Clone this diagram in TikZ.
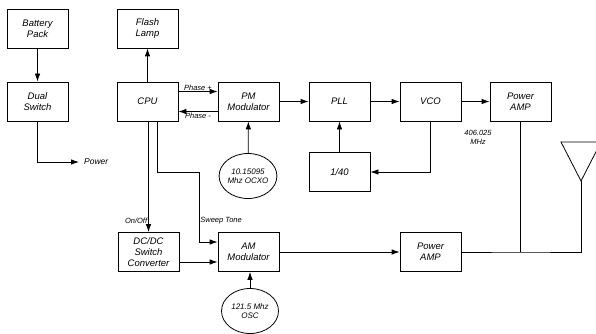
\documentclass[tikz,border=0pt]{standalone}
\usepackage{fontspec}
\setmainfont{Liberation Sans}
\usepackage{tikz}
\usetikzlibrary{shapes,arrows.meta,positioning,calc}

\begin{document}
\begin{tikzpicture}[
    x=1pt, y=-1pt,
    font=\fontsize{9.5}{11}\selectfont\itshape,
    box/.style={rectangle, draw, line width=0.8pt, minimum width=61pt, minimum height=39pt, align=center, inner sep=1pt},
    osc/.style={ellipse, draw, line width=0.8pt, minimum width=57pt, minimum height=45pt, align=center, inner sep=0pt},
    lbl/.style={font=\fontsize{7.5}{9}\selectfont\itshape, inner sep=1pt, align=center},
    arrow/.style={-{Latex[length=8pt,width=5.5pt]}, line width=0.8pt},
    wire/.style={line width=0.8pt}
]
    \clip (0,0) rectangle (596,334);

    % power supply
    \node[box] (battery) at (37.5,28.5) {Battery\\Pack};
    \node[box] (dual) at (37.5,101.5) {Dual\\Switch};
    \coordinate (pwr) at (79,162);
    \node[lbl, anchor=west, font=\fontsize{8.5}{10}\selectfont\itshape] (powerlbl) at (83,162) {Power};

    % 406 MHz chain
    \node[box] (flash) at (147.5,28.5) {Flash\\Lamp};
    \node[box] (cpu) at (147.5,101.5) {CPU};
    \node[box] (pm) at (248.5,101.5) {PM\\Modulator};
    \node[box] (pll) at (339.5,101.5) {PLL};
    \node[box] (vco) at (430.5,101.5) {VCO};
    \node[box] (pamp) at (520.5,101.5) {Power\\AMP};
    \node[box] (div) at (339.5,172) {1/40};
    \node[osc, font=\fontsize{8}{9.5}\selectfont\itshape] (ocxo) at (248,176) {10.15095\\Mhz OCXO};
    \node[lbl] (freq) at (478,137) {406.025\\MHz};

    % 121.5 MHz chain
    \node[box] (dcdc) at (148.5,252) {DC/DC\\Switch\\Converter};
    \node[box] (am) at (248.5,252) {AM\\Modulator};
    \node[box] (pamplo) at (430.5,252) {Power\\AMP};
    \node[osc, font=\fontsize{8}{9.5}\selectfont\itshape] (osc121) at (250,311) {121.5 Mhz\\OSC};

    % antenna
    \coordinate (ant) at (581,181);
    \coordinate (join) at (520.5,252);
    \draw[wire] (561,142) -- (601,142) -- (ant) -- cycle;

    \draw[arrow] (battery) -- (dual);
    \draw[arrow] (dual.south) |- (pwr);
    \draw[arrow] (cpu) -- (flash);
    \draw[arrow] ([yshift=10pt]cpu.east) -- node[lbl, above]{Phase +} ([yshift=10pt]pm.west);
    \draw[arrow] ([yshift=-10pt]pm.west) -- node[lbl, below]{Phase -} ([yshift=-10pt]cpu.east);
    \draw[arrow] (pm) -- (pll);
    \draw[arrow] (pll) -- (vco);
    \draw[arrow] (vco) -- (pamp);
    \draw[arrow] (vco.south) |- (div.east);
    \draw[arrow] (div) -- (pll);
    \draw[arrow] (ocxo) -- (pm);
    \draw[arrow] (cpu.south -| dcdc.north) -- node[lbl, left, pos=0.9]{On/Off} (dcdc.north);
    \draw[arrow] ([xshift=10pt]cpu.south) |- (199,172) |- node[lbl, right, pos=0.35]{Sweep Tone} ([yshift=10pt]am.west);
    \draw[arrow] ([yshift=-10pt]dcdc.east) -- ([yshift=-10pt]am.west);
    \draw[arrow] (osc121.north) -- (osc121.north |- am.south);
    \draw[arrow] (am) -- (pamplo);
    \draw[wire] (pamp.south) -- (join);
    \draw[wire] (pamplo.east) -- (join) -| (ant);
\end{tikzpicture}
\end{document}
